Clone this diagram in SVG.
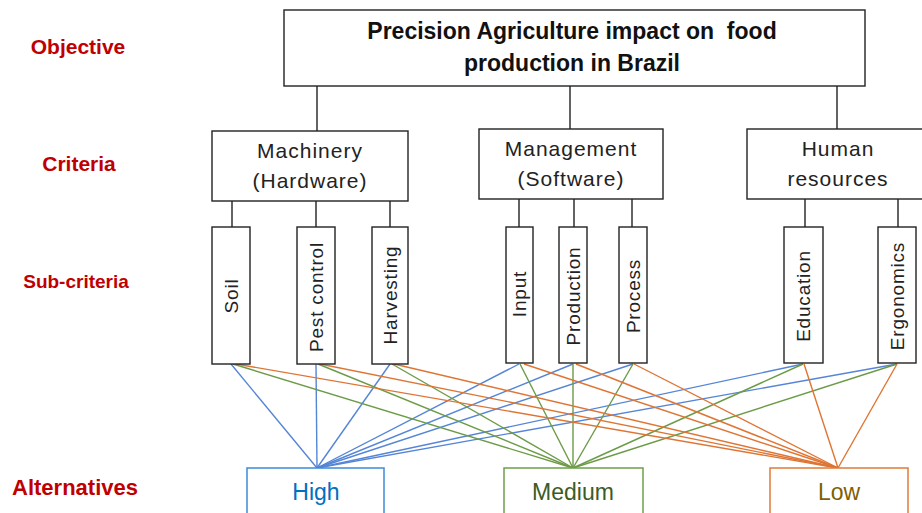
<svg xmlns="http://www.w3.org/2000/svg" width="922" height="513" viewBox="0 0 922 513">
<style>
.lbl{font-family:"Liberation Sans",Arial,sans-serif;font-weight:bold;fill:#C00000;text-anchor:middle}
.box{fill:#fff;stroke:#222;stroke-width:1.4}
.title{font-family:"Liberation Sans",Arial,sans-serif;font-weight:bold;font-size:23px;fill:#111;text-anchor:middle;white-space:pre}
.crit{font-family:"Liberation Sans",Arial,sans-serif;font-size:21px;fill:#222;text-anchor:middle;letter-spacing:1px}
.sub{font-family:"Liberation Sans",Arial,sans-serif;font-size:19px;fill:#222;text-anchor:middle;dominant-baseline:central;letter-spacing:0.8px}
.tree{stroke:#222;stroke-width:1.4;fill:none}
.b{stroke:#5585D6;stroke-width:1.4}
.g{stroke:#6C9B47;stroke-width:1.4}
.o{stroke:#DE7534;stroke-width:1.4}
.alt{font-family:"Liberation Sans",Arial,sans-serif;font-size:23px;text-anchor:middle}
</style>
<rect width="922" height="513" fill="#fff"/>
<g id="level-labels">
<text class="lbl" x="78" y="54" font-size="21">Objective</text>
<text class="lbl" x="79" y="171" font-size="21">Criteria</text>
<text class="lbl" x="76" y="288" font-size="19">Sub-criteria</text>
<text class="lbl" x="75" y="495" font-size="22">Alternatives</text>
</g>
<g id="connectors">
<g class="tree">
<path d="M317,86V131M570,86V129M837,86V129"/>
<path d="M232,201V227M316,201V227M390,201V227"/>
<path d="M519,199V227M574,199V227M632,199V227"/>
<path d="M805,199V227M898,199V227"/>
</g>
<g class="b">
<line x1="231" y1="364" x2="317" y2="468"/>
<line x1="316" y1="364" x2="317" y2="468"/>
<line x1="390" y1="364" x2="317" y2="468"/>
<line x1="519" y1="364" x2="317" y2="468"/>
<line x1="573" y1="364" x2="317" y2="468"/>
<line x1="633" y1="364" x2="317" y2="468"/>
<line x1="803" y1="364" x2="317" y2="468"/>
<line x1="897" y1="364" x2="317" y2="468"/>
</g>
<g class="g">
<line x1="233" y1="364" x2="573" y2="468"/>
<line x1="318" y1="364" x2="573" y2="468"/>
<line x1="392" y1="364" x2="573" y2="468"/>
<line x1="520" y1="364" x2="573" y2="468"/>
<line x1="573" y1="364" x2="573" y2="468"/>
<line x1="633" y1="364" x2="573" y2="468"/>
<line x1="803" y1="364" x2="573" y2="468"/>
<line x1="897" y1="364" x2="573" y2="468"/>
</g>
<g class="o">
<line x1="236" y1="364" x2="838" y2="468"/>
<line x1="320" y1="364" x2="838" y2="468"/>
<line x1="394" y1="364" x2="838" y2="468"/>
<line x1="524" y1="364" x2="838" y2="468"/>
<line x1="576" y1="364" x2="838" y2="468"/>
<line x1="634" y1="364" x2="838" y2="468"/>
<line x1="804" y1="364" x2="838" y2="468"/>
<line x1="897" y1="364" x2="838" y2="468"/>
</g>
</g>
<g id="objective">
<rect class="box" x="284" y="10" width="581" height="76"/>
<text class="title" x="572" y="39" xml:space="preserve">Precision Agriculture impact on  food</text>
<text class="title" x="572" y="71">production in Brazil</text>
</g>
<g id="machinery">
<rect class="box" x="212" y="131" width="196" height="70"/>
<text class="crit" x="310" y="158">Machinery</text>
<text class="crit" x="310" y="188">(Hardware)</text>
</g>
<g id="management">
<rect class="box" x="479" y="129" width="184" height="70"/>
<text class="crit" x="571" y="156">Management</text>
<text class="crit" x="571" y="186">(Software)</text>
</g>
<g id="human">
<rect class="box" x="747" y="129" width="190" height="70"/>
<text class="crit" x="838" y="156">Human</text>
<text class="crit" x="838" y="186">resources</text>
</g>
<g id="soil">
<rect class="box" x="212" y="227" width="38" height="137"/>
<text class="sub" transform="translate(231,296) rotate(-90)">Soil</text>
</g>
<g id="pest-control">
<rect class="box" x="297" y="227" width="38" height="137"/>
<text class="sub" transform="translate(316,297) rotate(-90)">Pest control</text>
</g>
<g id="harvesting">
<rect class="box" x="372" y="227" width="36" height="137"/>
<text class="sub" transform="translate(390,295) rotate(-90)">Harvesting</text>
</g>
<g id="input">
<rect class="box" x="506" y="227" width="27" height="136"/>
<text class="sub" transform="translate(519.5,294) rotate(-90)">Input</text>
</g>
<g id="production">
<rect class="box" x="559" y="227" width="28" height="136"/>
<text class="sub" transform="translate(573,296) rotate(-90)">Production</text>
</g>
<g id="process">
<rect class="box" x="619" y="227" width="28" height="136"/>
<text class="sub" transform="translate(633,296) rotate(-90)">Process</text>
</g>
<g id="education">
<rect class="box" x="784" y="227" width="39" height="136"/>
<text class="sub" transform="translate(803.5,296) rotate(-90)">Education</text>
</g>
<g id="ergonomics">
<rect class="box" x="878" y="227" width="38" height="136"/>
<text class="sub" transform="translate(897,296) rotate(-90)">Ergonomics</text>
</g>
<g id="high">
<rect x="247" y="468" width="137" height="60" fill="#fff" stroke="#3B8AD6" stroke-width="1.5"/>
<text class="alt" x="316" y="500" fill="#0070C0">High</text>
</g>
<g id="medium">
<rect x="504" y="468" width="139" height="60" fill="#fff" stroke="#6E9F4A" stroke-width="1.5"/>
<text class="alt" x="573" y="500" fill="#3A5C24">Medium</text>
</g>
<g id="low">
<rect x="770" y="468" width="138" height="60" fill="#fff" stroke="#E07B39" stroke-width="1.5"/>
<text class="alt" x="839" y="500" fill="#7F6000">Low</text>
</g>
</svg>
